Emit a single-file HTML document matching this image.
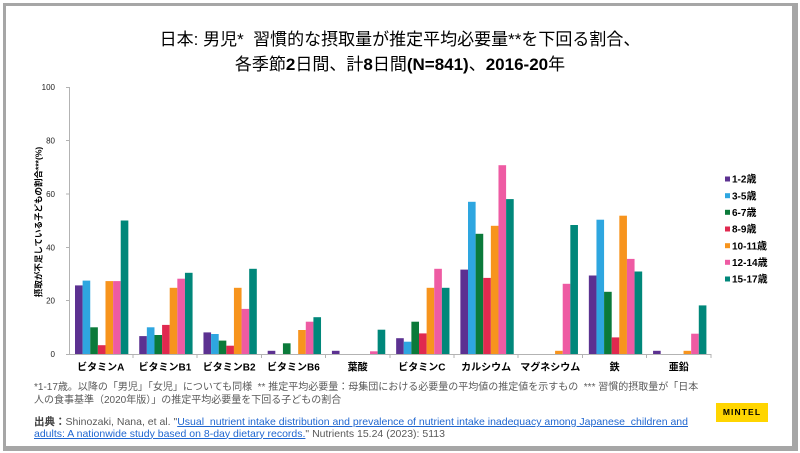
<!DOCTYPE html>
<html lang="ja">
<head>
<meta charset="utf-8">
<style>
  html, body { margin:0; padding:0; background:#fff; }
  body { width:800px; height:453px; position:relative; overflow:hidden;
         font-family:"Liberation Sans","Noto Sans CJK JP",sans-serif; }
  .frame { position:absolute; left:3px; top:3px; width:786px; height:440px;
           border-top:3px solid #a6a6a6; border-left:3px solid #a6a6a6;
           border-right:6px solid #a6a6a6; border-bottom:5px solid #a6a6a6; }
  .title { position:absolute; left:0; width:800px; top:27px; text-align:center;
           font-size:17px; line-height:25px; color:#000; white-space:nowrap; }
  .title b { font-weight:bold; }
  .foot { position:absolute; left:34px; top:382px; font-size:10px; line-height:12.5px;
          color:#595959; white-space:nowrap; }
  .src { position:absolute; left:34px; top:417px; font-size:10.5px; line-height:11.7px;
         color:#595959; white-space:nowrap; }
  .src b { color:#404040; }
  .src a { color:#1f66d0; text-decoration:underline; }
  .mintel { position:absolute; left:716px; top:403px; width:52px; height:19px;
            background:#ffd500; color:#000; font-weight:bold; font-size:8.5px;
            letter-spacing:1.1px; line-height:19px; text-align:center; }
  svg { position:absolute; left:0; top:0; }
</style>
</head>
<body>
<div class="frame"></div>

<div class="title">日本:&nbsp;男児*&nbsp;&nbsp;習慣的な摂取量が推定平均必要量**を下回る割合、<br>各季節<b>2</b>日間、計<b>8</b>日間<b>(N=841)</b>、<b>2016-20</b>年</div>

<svg width="800" height="453" viewBox="0 0 800 453" xmlns="http://www.w3.org/2000/svg">
  <g stroke="#b3b3b3" stroke-width="1" fill="none" shape-rendering="crispEdges">
    <line x1="69.5" y1="87" x2="69.5" y2="354.5"/>
    <line x1="69" y1="354.5" x2="711" y2="354.5"/>
    <line x1="66" y1="87.5" x2="69.5" y2="87.5"/>
    <line x1="66" y1="140.5" x2="69.5" y2="140.5"/>
    <line x1="66" y1="193.9" x2="69.5" y2="193.9"/>
    <line x1="66" y1="247.3" x2="69.5" y2="247.3"/>
    <line x1="66" y1="300.7" x2="69.5" y2="300.7"/>
    <line x1="66" y1="354.5" x2="69.5" y2="354.5"/>
    <line x1="132.83" y1="354" x2="132.83" y2="358"/>
    <line x1="197.06" y1="354" x2="197.06" y2="358"/>
    <line x1="261.29" y1="354" x2="261.29" y2="358"/>
    <line x1="325.52" y1="354" x2="325.52" y2="358"/>
    <line x1="389.75" y1="354" x2="389.75" y2="358"/>
    <line x1="453.98" y1="354" x2="453.98" y2="358"/>
    <line x1="518.21" y1="354" x2="518.21" y2="358"/>
    <line x1="582.44" y1="354" x2="582.44" y2="358"/>
    <line x1="646.67" y1="354" x2="646.67" y2="358"/>
    <line x1="710.9" y1="354" x2="710.9" y2="358"/>
  </g>

  <g font-family="Liberation Sans, sans-serif" font-size="8" fill="#222" text-anchor="end">
    <text x="55" y="90">100</text>
    <text x="55" y="143.5">80</text>
    <text x="55" y="196.9">60</text>
    <text x="55" y="250.3">40</text>
    <text x="55" y="303.7">20</text>
    <text x="55" y="357">0</text>
  </g>

  <text transform="translate(41.5,222) rotate(-90)" text-anchor="middle"
        font-family="Liberation Sans, Noto Sans CJK JP, sans-serif" font-size="8.5" font-weight="bold" fill="#000">摂取が不足している子どもの割合***(%)</text>

  <g>
    <g transform="translate(75,0)">
      <rect x="0" y="285.4" width="7.62" height="68.6" fill="#5c3191"/>
      <rect x="7.62" y="280.6" width="7.62" height="73.4" fill="#2ea6e0"/>
      <rect x="15.24" y="327.3" width="7.62" height="26.7" fill="#0b7a3a"/>
      <rect x="22.86" y="345.2" width="7.62" height="8.8" fill="#e0294f"/>
      <rect x="30.48" y="281.1" width="7.62" height="72.9" fill="#f7941d"/>
      <rect x="38.1" y="281.1" width="7.62" height="72.9" fill="#ee5ba3"/>
      <rect x="45.72" y="220.5" width="7.62" height="133.5" fill="#00877a"/>
    </g>
    <g transform="translate(139.23,0)">
      <rect x="0" y="336.1" width="7.62" height="17.9" fill="#5c3191"/>
      <rect x="7.62" y="327.3" width="7.62" height="26.7" fill="#2ea6e0"/>
      <rect x="15.24" y="335.0" width="7.62" height="19.0" fill="#0b7a3a"/>
      <rect x="22.86" y="324.9" width="7.62" height="29.1" fill="#e0294f"/>
      <rect x="30.48" y="287.8" width="7.62" height="66.2" fill="#f7941d"/>
      <rect x="38.1" y="278.7" width="7.62" height="75.3" fill="#ee5ba3"/>
      <rect x="45.72" y="272.8" width="7.62" height="81.2" fill="#00877a"/>
    </g>
    <g transform="translate(203.46,0)">
      <rect x="0" y="332.4" width="7.62" height="21.6" fill="#5c3191"/>
      <rect x="7.62" y="334.0" width="7.62" height="20.0" fill="#2ea6e0"/>
      <rect x="15.24" y="340.6" width="7.62" height="13.4" fill="#0b7a3a"/>
      <rect x="22.86" y="345.7" width="7.62" height="8.3" fill="#e0294f"/>
      <rect x="30.48" y="287.8" width="7.62" height="66.2" fill="#f7941d"/>
      <rect x="38.1" y="308.9" width="7.62" height="45.1" fill="#ee5ba3"/>
      <rect x="45.72" y="268.8" width="7.62" height="85.2" fill="#00877a"/>
    </g>
    <g transform="translate(267.69,0)">
      <rect x="0" y="350.8" width="7.62" height="3.2" fill="#5c3191"/>
      <rect x="15.24" y="343.3" width="7.62" height="10.7" fill="#0b7a3a"/>
      <rect x="30.48" y="330.0" width="7.62" height="24.0" fill="#f7941d"/>
      <rect x="38.1" y="321.7" width="7.62" height="32.3" fill="#ee5ba3"/>
      <rect x="45.72" y="317.2" width="7.62" height="36.8" fill="#00877a"/>
    </g>
    <g transform="translate(331.92,0)">
      <rect x="0" y="350.8" width="7.62" height="3.2" fill="#5c3191"/>
      <rect x="38.1" y="351.3" width="7.62" height="2.7" fill="#ee5ba3"/>
      <rect x="45.72" y="329.7" width="7.62" height="24.3" fill="#00877a"/>
    </g>
    <g transform="translate(396.15,0)">
      <rect x="0" y="338.2" width="7.62" height="15.8" fill="#5c3191"/>
      <rect x="7.62" y="341.7" width="7.62" height="12.3" fill="#2ea6e0"/>
      <rect x="15.24" y="321.7" width="7.62" height="32.3" fill="#0b7a3a"/>
      <rect x="22.86" y="333.4" width="7.62" height="20.6" fill="#e0294f"/>
      <rect x="30.48" y="287.8" width="7.62" height="66.2" fill="#f7941d"/>
      <rect x="38.1" y="268.8" width="7.62" height="85.2" fill="#ee5ba3"/>
      <rect x="45.72" y="287.8" width="7.62" height="66.2" fill="#00877a"/>
    </g>
    <g transform="translate(460.38,0)">
      <rect x="0" y="269.6" width="7.62" height="84.4" fill="#5c3191"/>
      <rect x="7.62" y="201.8" width="7.62" height="152.2" fill="#2ea6e0"/>
      <rect x="15.24" y="233.8" width="7.62" height="120.2" fill="#0b7a3a"/>
      <rect x="22.86" y="277.9" width="7.62" height="76.1" fill="#e0294f"/>
      <rect x="30.48" y="225.8" width="7.62" height="128.2" fill="#f7941d"/>
      <rect x="38.1" y="165.2" width="7.62" height="188.8" fill="#ee5ba3"/>
      <rect x="45.72" y="199.1" width="7.62" height="154.9" fill="#00877a"/>
    </g>
    <g transform="translate(524.61,0)">
      <rect x="30.48" y="350.8" width="7.62" height="3.2" fill="#f7941d"/>
      <rect x="38.1" y="283.8" width="7.62" height="70.2" fill="#ee5ba3"/>
      <rect x="45.72" y="225.0" width="7.62" height="129.0" fill="#00877a"/>
    </g>
    <g transform="translate(588.84,0)">
      <rect x="0" y="275.5" width="7.62" height="78.5" fill="#5c3191"/>
      <rect x="7.62" y="219.7" width="7.62" height="134.3" fill="#2ea6e0"/>
      <rect x="15.24" y="291.8" width="7.62" height="62.2" fill="#0b7a3a"/>
      <rect x="22.86" y="337.4" width="7.62" height="16.6" fill="#e0294f"/>
      <rect x="30.48" y="215.7" width="7.62" height="138.3" fill="#f7941d"/>
      <rect x="38.1" y="258.9" width="7.62" height="95.1" fill="#ee5ba3"/>
      <rect x="45.72" y="271.5" width="7.62" height="82.5" fill="#00877a"/>
    </g>
    <g transform="translate(653.07,0)">
      <rect x="0" y="350.8" width="7.62" height="3.2" fill="#5c3191"/>
      <rect x="30.48" y="350.8" width="7.62" height="3.2" fill="#f7941d"/>
      <rect x="38.1" y="333.7" width="7.62" height="20.3" fill="#ee5ba3"/>
      <rect x="45.72" y="305.4" width="7.62" height="48.6" fill="#00877a"/>
    </g>
  </g>

  <g font-family="Liberation Sans, Noto Sans CJK JP, sans-serif" font-size="10" font-weight="bold" fill="#000" text-anchor="middle">
    <text x="100.7" y="370.5">ビタミンA</text>
    <text x="164.9" y="370.5">ビタミンB1</text>
    <text x="229.2" y="370.5">ビタミンB2</text>
    <text x="293.4" y="370.5">ビタミンB6</text>
    <text x="357.6" y="370.5">葉酸</text>
    <text x="421.9" y="370.5">ビタミンC</text>
    <text x="486.1" y="370.5">カルシウム</text>
    <text x="550.3" y="370.5">マグネシウム</text>
    <text x="614.6" y="370.5">鉄</text>
    <text x="678.8" y="370.5">亜鉛</text>
  </g>

  <g font-family="Liberation Sans, Noto Sans CJK JP, sans-serif" font-size="10" font-weight="bold" fill="#000">
    <rect x="725" y="176.5" width="5" height="5" fill="#5c3191"/>
    <text x="732" y="182.6">1-2歳</text>
    <rect x="725" y="193.2" width="5" height="5" fill="#2ea6e0"/>
    <text x="732" y="199.3">3-5歳</text>
    <rect x="725" y="209.8" width="5" height="5" fill="#0b7a3a"/>
    <text x="732" y="215.9">6-7歳</text>
    <rect x="725" y="226.5" width="5" height="5" fill="#e0294f"/>
    <text x="732" y="232.6">8-9歳</text>
    <rect x="725" y="243.2" width="5" height="5" fill="#f7941d"/>
    <text x="732" y="249.3">10-11歳</text>
    <rect x="725" y="259.8" width="5" height="5" fill="#ee5ba3"/>
    <text x="732" y="265.9">12-14歳</text>
    <rect x="725" y="276.5" width="5" height="5" fill="#00877a"/>
    <text x="732" y="282.6">15-17歳</text>
  </g>
</svg>

<div class="foot">*1-17歳。以降の「男児」「女児」についても同様&nbsp; ** 推定平均必要量：母集団における必要量の平均値の推定値を示すもの&nbsp; *** 習慣的摂取量が「日本<br>人の食事基準（2020年版）」の推定平均必要量を下回る子どもの割合</div>

<div class="src"><b>出典：</b>Shinozaki, Nana, et al. "<a>Usual&nbsp; nutrient intake distribution and prevalence of nutrient intake inadequacy among Japanese&nbsp; children and</a><br><a>adults: A nationwide study based on 8-day dietary records.</a>" Nutrients 15.24 (2023): 5113</div>

<div class="mintel">MINTEL</div>
</body>
</html>
